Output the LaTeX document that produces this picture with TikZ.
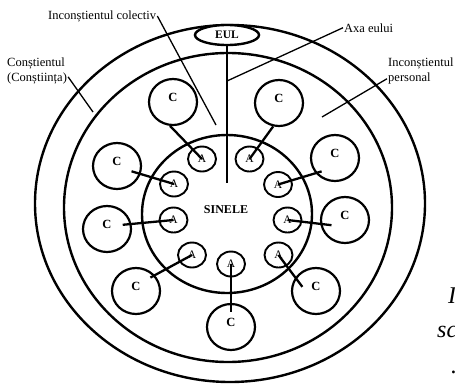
\documentclass[tikz,border=0pt]{standalone}
\usepackage{fontspec}
\setmainfont{Liberation Serif}
\usetikzlibrary{shapes.geometric,calc}
\begin{document}
\begin{tikzpicture}[line cap=butt,line join=miter,x=1pt,y=-1pt]
		\tikzset{ring/.style={line width=2.4pt},
			cbox/.style={draw,ellipse,line width=2.2pt,minimum width=48,minimum height=46,inner sep=0pt,text depth=10pt,font=\bfseries\fontsize{12.5}{12.5}\selectfont},
			abox/.style={draw,ellipse,line width=1.9pt,minimum width=28,minimum height=25,inner sep=0pt,font=\fontsize{11.5}{11.5}\selectfont},
			link/.style={line width=2.3pt},
			lead/.style={line width=1.3pt},
			lbl/.style={inner sep=1pt,align=left,font=\fontsize{12.5}{15}\selectfont},
			captxt/.style={inner sep=0pt,anchor=base west,font=\itshape\fontsize{24}{24}\selectfont}
		}
		\useasboundingbox (0,0) rectangle (455,383);
		\draw[ring] (230,203.5) ellipse[x radius=195,y radius=178.5];
		\draw[ring] (228,207.5) ellipse[x radius=164,y radius=154.5];
		\draw[ring] (227,214) ellipse[x radius=85,y radius=79];
		\node[cbox] (c1) at (173,102) {C}; \node[abox] (a1) at (202,159) {A}; \draw[link] (a1.center) -- (c1.263);
		\node[cbox] (c2) at (279,103) {C}; \node[abox] (a2) at (249.5,159) {A}; \draw[link] (a2.center) -- (c2.256);
		\node[cbox] (c3) at (335,158) {C}; \node[abox] (a3) at (278,184.5) {A}; \draw[link] (a3.center) -- ($(c3.center)!0.77!(c3.225)$);
		\node[cbox] (c4) at (345,220) {C}; \node[abox] (a4) at (287.5,220) {A}; \draw[link] (a4.center) -- ($(c4.center)!0.58!(c4.201)$);
		\node[cbox] (c5) at (316,291) {C}; \node[abox] (a5) at (278.5,255) {A}; \draw[link] (a5.center) -- ($(c5.center)!0.57!(c5.163)$);
		\node[cbox] (c6) at (231,327) {C}; \node[abox] (a6) at (231,264) {A}; \draw[link] (a6.center) -- ($(c6.center)!0.62!(c6.north)$);
		\node[cbox] (c7) at (136,291) {C}; \node[abox] (a7) at (192,255) {A}; \draw[link] (a7.center) -- ($(c7.center)!0.8!(c7.43)$);
		\node[cbox] (c8) at (107,229) {C}; \node[abox] (a8) at (173.5,220) {A}; \draw[link] (a8.center) -- ($(c8.center)!0.65!(c8.15)$);
		\node[cbox] (c9) at (117,166) {C}; \node[abox] (a9) at (174,184) {A}; \draw[link] (a9.center) -- ($(c9.center)!0.62!(c9.340)$);
		\node[draw,ellipse,fill=white,line width=2.4pt,minimum width=64,minimum height=20,inner sep=0pt,font=\bfseries\fontsize{11.5}{11.5}\selectfont] (eul) at (227,35) {EUL};
		\coordinate (axend) at (227,183); \draw[link] (eul.south) -- (axend);
		\node[font=\bfseries\fontsize{12}{12}\selectfont] (sinele) at (226,210) {SINELE};
		\node[lbl,anchor=base west] (lcol) at (47,19) {Inconștientul colectiv};
		\node[lbl,anchor=base west] (laxa) at (343,32) {Axa eului};
		\node[lbl,anchor=north west] (lper) at (387,56.5) {Inconștientul\\personal};
		\node[lbl,anchor=north west] (lcon) at (6,56.5) {Conștientul\\(Conștiința)};
		\coordinate (pcol) at (216,125); \coordinate (paxa) at (227,81);
		\coordinate (pper) at (322,117); \coordinate (pcon) at (93,112);
		\draw[lead] (lcol.east) -- (pcol); \draw[lead] (laxa.west) -- (paxa);
		\draw[lead] ([yshift=6.5pt]lper.south west) -- (pper); \draw[lead] ([yshift=-6pt]lcon.east) -- (pcon);
		\node[captxt] (t1) at (448,303) {I}; \node[captxt] (t2) at (437,337) {sc}; \node[captxt] (t3) at (451,373) {.};
	\end{tikzpicture}
\end{document}
